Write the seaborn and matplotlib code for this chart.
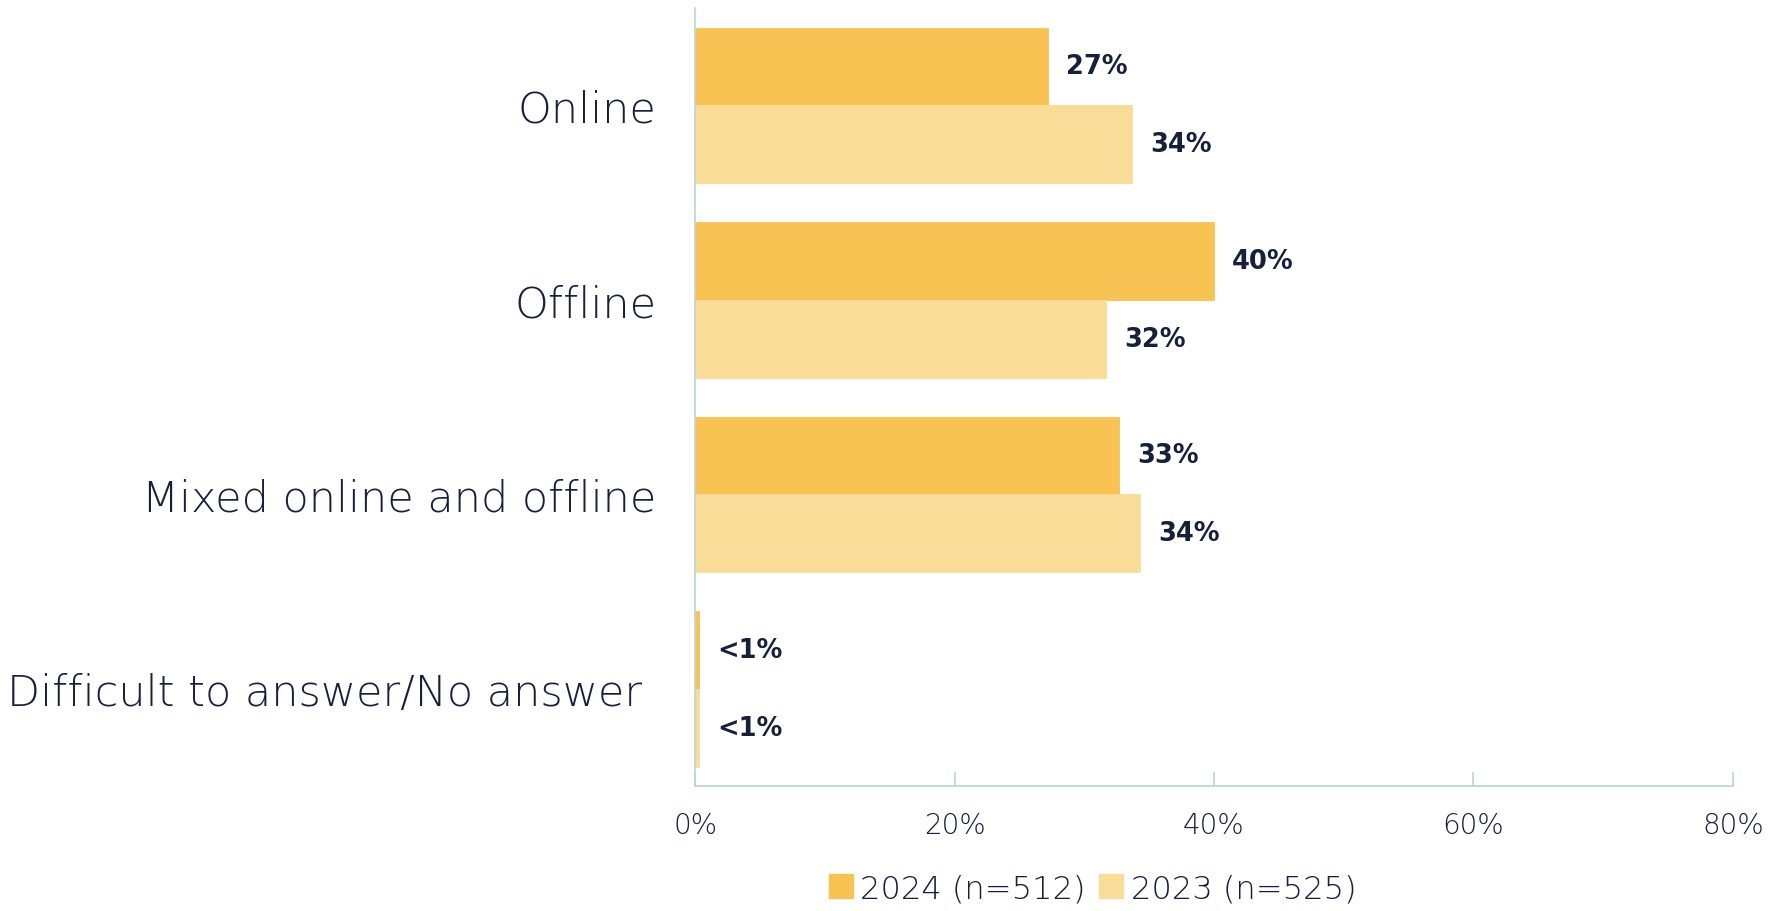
import matplotlib
matplotlib.use("Agg")

import matplotlib.pyplot as plt
import seaborn as sns
import pandas as pd
from matplotlib.lines import Line2D

# ── data ──
categories = ["Online", "Offline", "Mixed online and offline", "Difficult to answer/No answer "]
series = ["2024 (n=512)", "2023 (n=525)"]
values_2024 = [27.2, 40.0, 32.7, 0.3]
values_2023 = [33.7, 31.7, 34.3, 0.3]
labels_2024 = ["27%", "40%", "33%", "<1%"]
labels_2023 = ["34%", "32%", "34%", "<1%"]
x_ticks = [0, 20, 40, 60, 80]

COLORS = ["#F8C352", "#F9DC98"]
TEXT = "#16203A"
AXIS = "#B9D6D6"

df = pd.DataFrame({
    "category": categories * 2,
    "value": values_2024 + values_2023,
    "series": [series[0]] * 4 + [series[1]] * 4,
})

sns.set_style("white")
plt.rcParams["font.family"] = ["DejaVu Sans"]

fig = plt.figure(figsize=(17.7, 9.12), dpi=100)
ax = fig.add_axes([0.3927, 0.137, 0.979 - 0.3927, 0.853])

sns.barplot(
    data=df, y="category", x="value", hue="series",
    order=categories, hue_order=series, palette=COLORS,
    orient="h", width=0.8, saturation=1, legend=False, ax=ax,
    linewidth=0.6,
)
for cont, c in zip(ax.containers, COLORS):
    for bar in cont:
        bar.set_edgecolor(c)

# value labels
for cont, labs in zip(ax.containers, [labels_2024, labels_2023]):
    ax.bar_label(cont, labels=labs, padding=13, fontsize=18.5,
                 fontweight="bold", color=TEXT)

ax.set_xlim(0, 80)
ax.set_ylim(3.5, -0.5)
ax.set_xticks(x_ticks)
ax.set_xticklabels([f"{t}%" for t in x_ticks], fontsize=20, color=TEXT,
                   fontweight=200)
ax.set_yticklabels(categories, fontsize=31, color=TEXT, fontweight=200)
ax.set_xlabel("")
ax.set_ylabel("")

ax.tick_params(axis="x", bottom=True, direction="in", length=10, width=1.2,
               color=AXIS, pad=18)
ax.tick_params(axis="y", left=False, length=0, pad=28)

for side in ["top", "right"]:
    ax.spines[side].set_visible(False)
for side in ["left", "bottom"]:
    ax.spines[side].set_color(AXIS)
    ax.spines[side].set_linewidth(1.2)

handles = [Line2D([0], [0], marker="s", linestyle="", markersize=17,
                  markerfacecolor=c, markeredgecolor=c) for c in COLORS]
fig.legend(handles, series, loc="center", bbox_to_anchor=(0.618, 0.025),
           ncol=2, frameon=False, handlelength=0.6,
           handletextpad=0.3, columnspacing=0.5, labelcolor=TEXT,
           prop={"weight": 200, "size": 23})

fig.savefig("out.png", dpi=100)
